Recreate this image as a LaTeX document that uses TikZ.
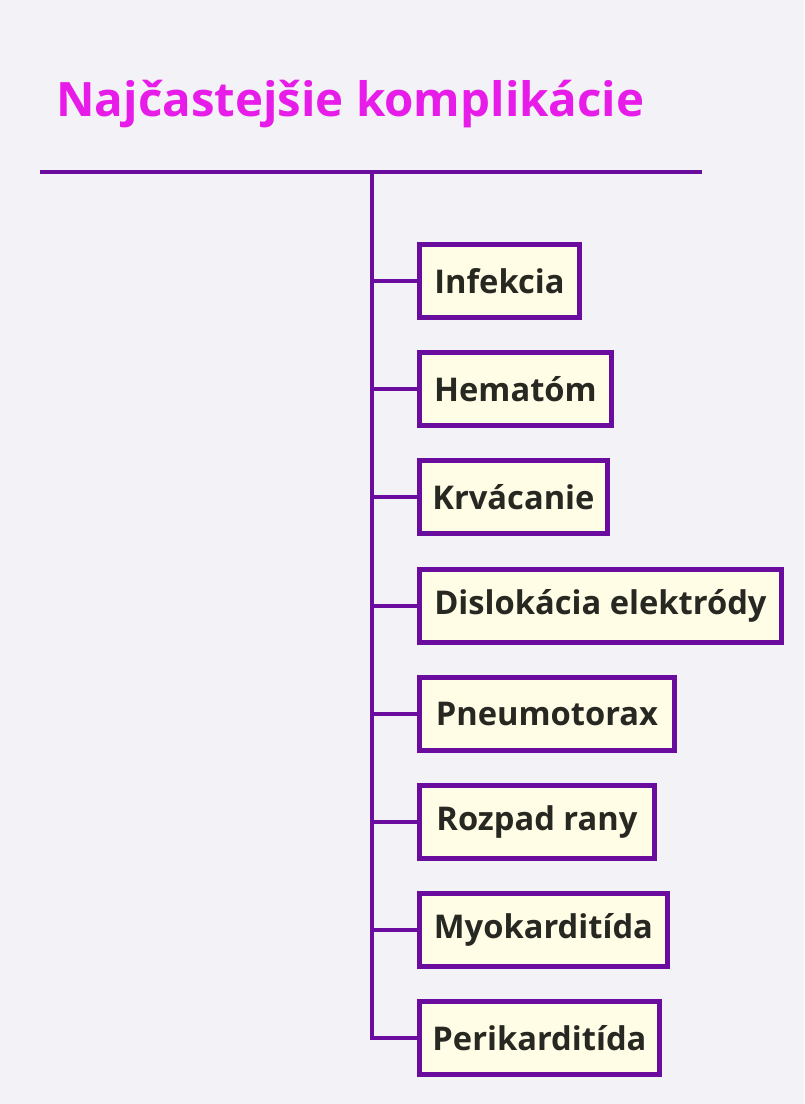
\documentclass[tikz,border=0pt]{standalone}
\usepackage{fontspec}
\setmainfont{Open Sans}
\usetikzlibrary{positioning}
\definecolor{bgpale}{RGB}{242,242,247}
\definecolor{branchpurple}{RGB}{106,12,158}
\definecolor{titlemagenta}{RGB}{232,28,232}
\definecolor{itemfill}{RGB}{255,253,230}
\definecolor{itemtext}{RGB}{40,40,34}

\begin{document}
\begin{tikzpicture}[x=0.02cm, y=-0.02cm,
    itembox/.style={rectangle, draw=branchpurple, line width=2.8pt, fill=itemfill,
      anchor=west, minimum height=1.46cm, inner sep=0pt, text=itemtext,
      font=\bfseries\fontsize{18.6}{22}\selectfont},
    branch/.style={draw=branchpurple, line width=2.8pt}]
    \fill[bgpale] (0,0) rectangle (804,1104);
    \node[anchor=west, inner sep=0pt, text=titlemagenta,
      font=\bfseries\fontsize{27}{32}\selectfont] (title) at (56,104)
      {Najčastejšie komplikácie};
    \coordinate (rulel) at (40,172);
    \coordinate (ruler) at (702,172);
    \coordinate (spine) at (372,172);
    \node[itembox, minimum width=3.2cm] (infekcia) at (417,281) {Infekcia};
    \node[itembox, minimum width=3.84cm] (hematom) at (417,389) {Hematóm};
    \node[itembox, minimum width=3.76cm] (krvacanie) at (417,497) {Krvácanie};
    \node[itembox, minimum width=7.24cm] (dislokacia) at (417,606) {Dislokácia elektródy};
    \node[itembox, minimum width=5.1cm] (pneumo) at (417,714) {Pneumotorax};
    \node[itembox, minimum width=4.7cm] (rozpad) at (417,822) {Rozpad rany};
    \node[itembox, minimum width=4.96cm] (myokard) at (417,930) {Myokarditída};
    \node[itembox, minimum width=4.8cm] (perikard) at (417,1038) {Perikarditída};
    \draw[branch] (rulel) -- (ruler);
    \draw[branch] (spine) |- (perikard.west);
    \draw[branch] (infekcia.west -| spine) -- (infekcia.west);
    \draw[branch] (hematom.west -| spine) -- (hematom.west);
    \draw[branch] (krvacanie.west -| spine) -- (krvacanie.west);
    \draw[branch] (dislokacia.west -| spine) -- (dislokacia.west);
    \draw[branch] (pneumo.west -| spine) -- (pneumo.west);
    \draw[branch] (rozpad.west -| spine) -- (rozpad.west);
    \draw[branch] (myokard.west -| spine) -- (myokard.west);
\end{tikzpicture}
\end{document}
